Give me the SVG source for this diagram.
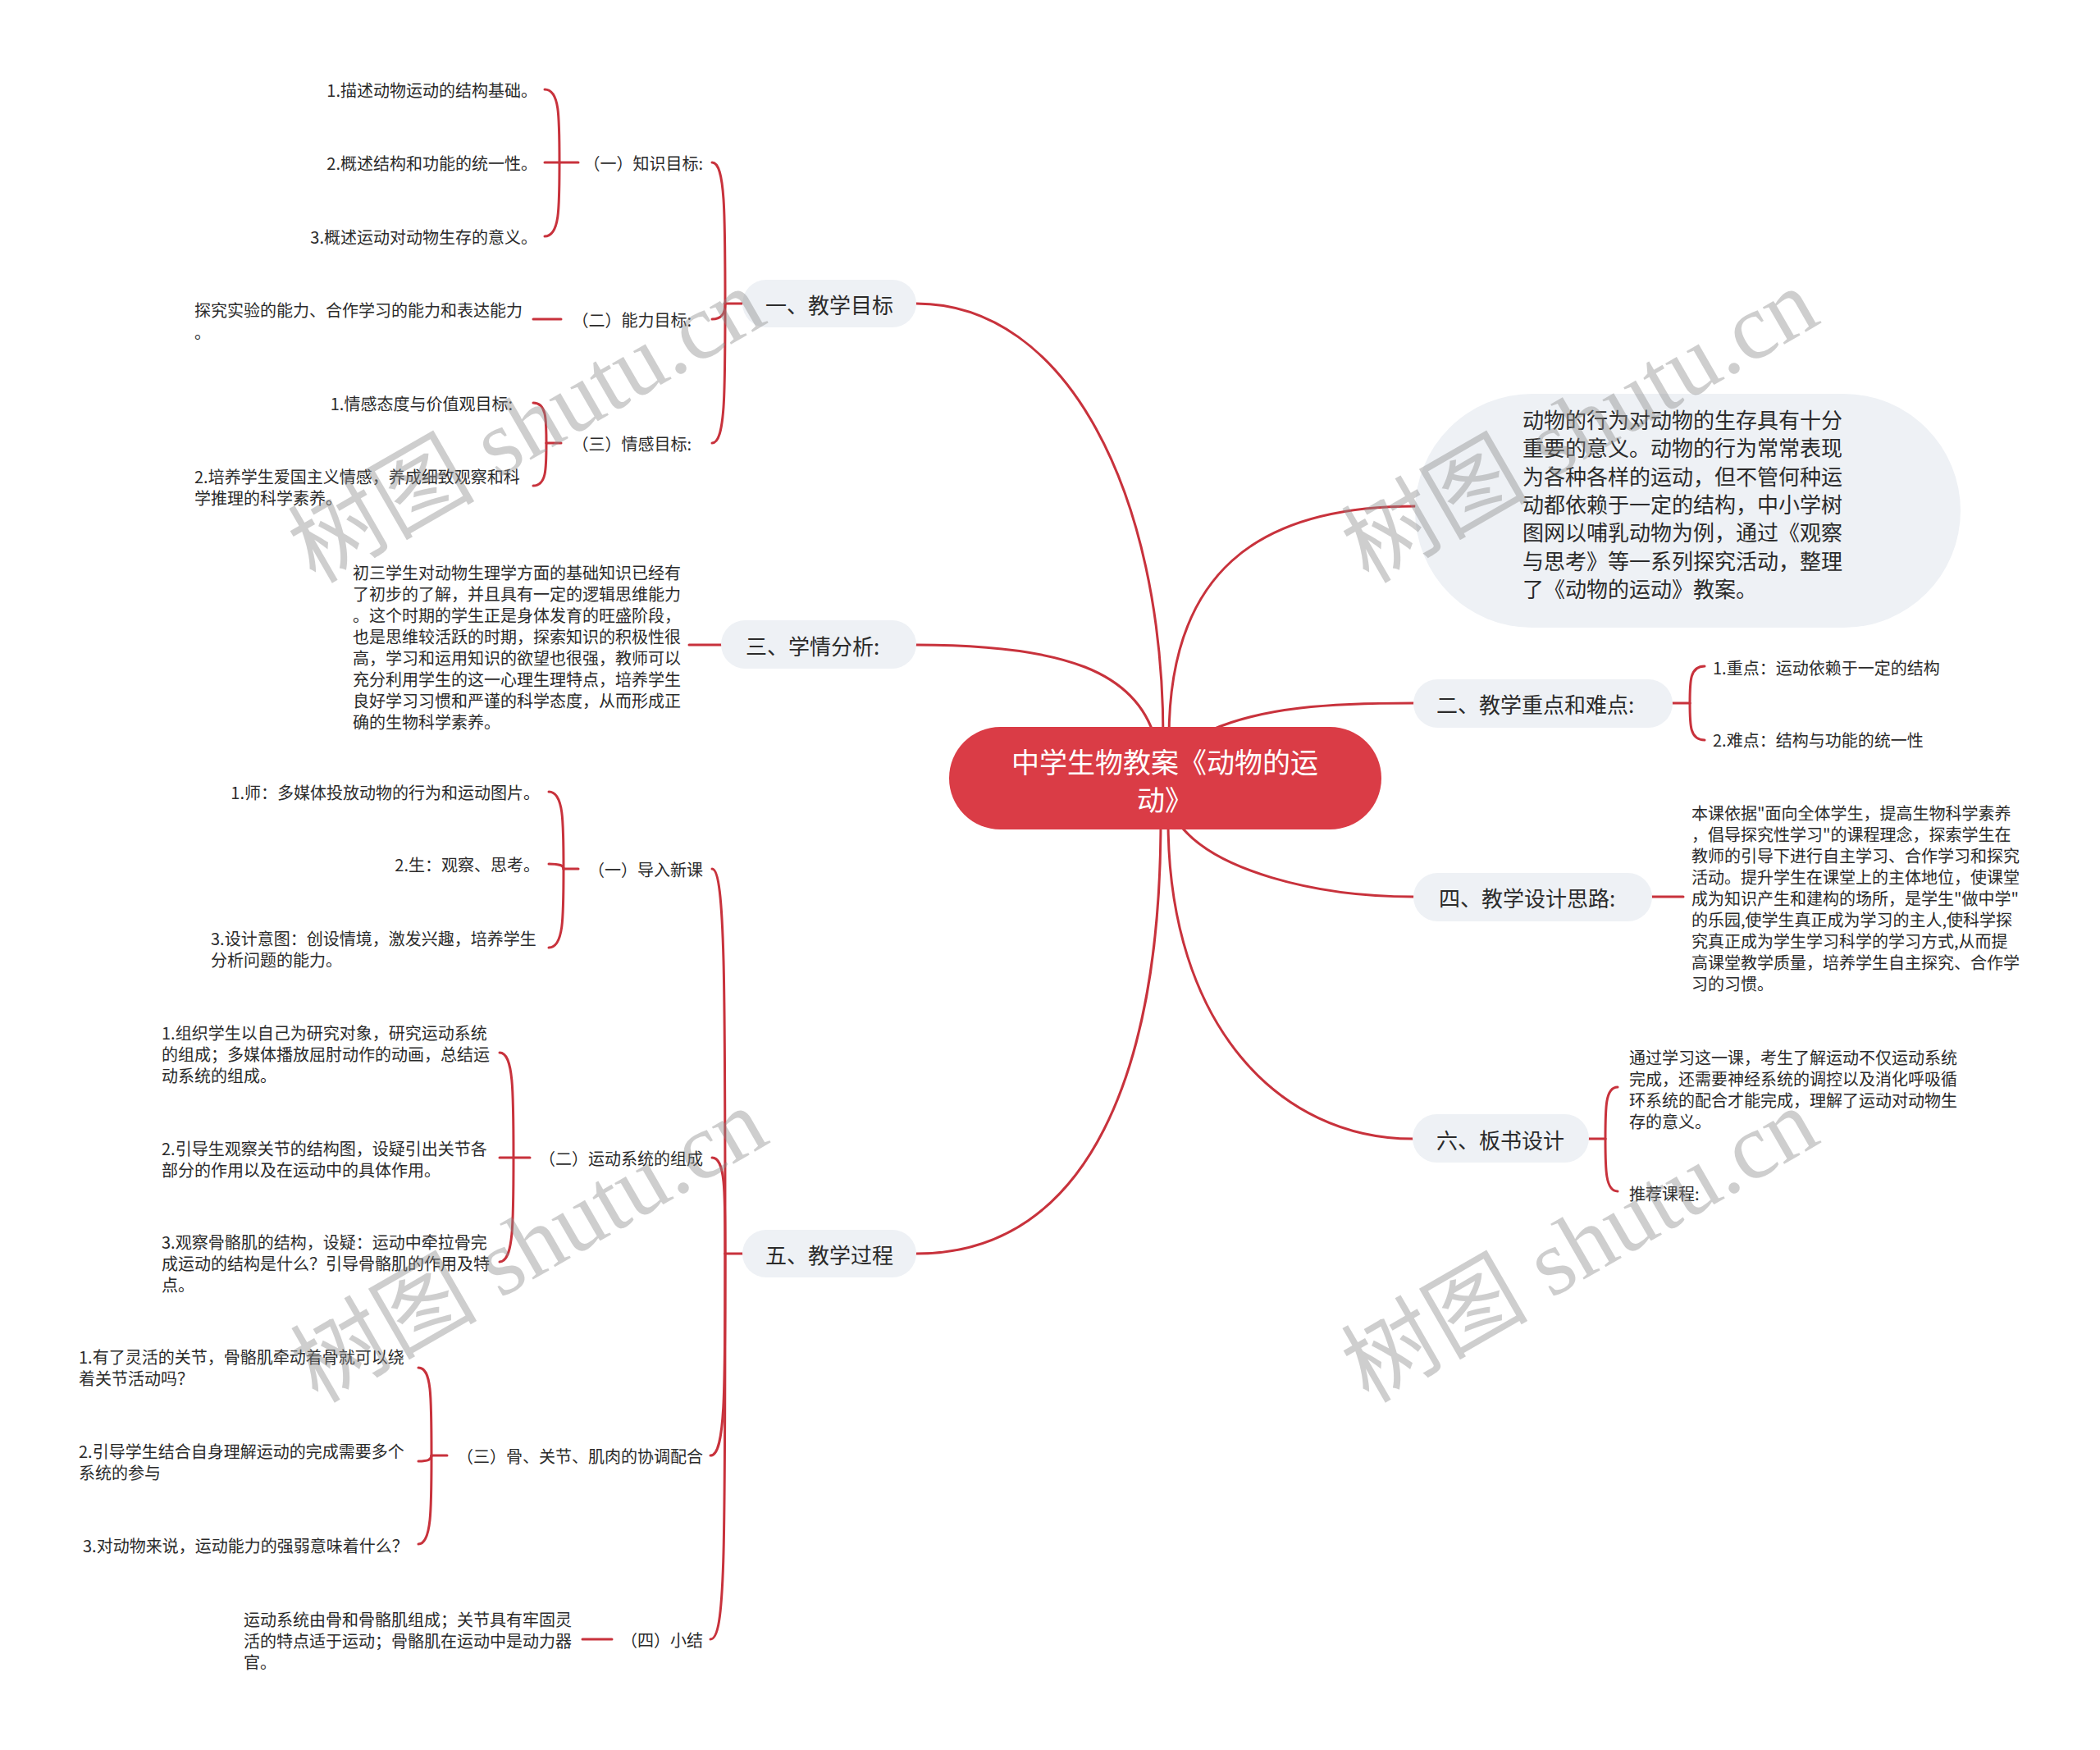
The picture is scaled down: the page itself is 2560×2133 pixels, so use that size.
<svg xmlns="http://www.w3.org/2000/svg" width="2560" height="2133" viewBox="0 0 2560 2133">
<style>
text{font-family:"Noto Sans CJK SC","Noto Sans",sans-serif;fill:#2b2b2b}
.t{font-size:20px}
.l1{font-size:26px;fill:#2b2b2b}
.d{font-size:26px}
.root{font-size:34px;fill:#ffffff}
.pill{fill:#eef1f5}
.c path{fill:none;stroke:#c8323c;stroke-width:3;stroke-linecap:round}
.wm{font-family:"Liberation Serif","Noto Sans CJK SC",serif;font-size:114px;fill:#8c8c8c;opacity:.42}
</style>
<rect width="2560" height="2133" fill="#ffffff"/>
<g class="c" id="connectors">
<path d="M1117,370 C1300,370 1418,600 1418,900"/>
<path d="M1117,786 C1300,786 1385,820 1408,900"/>
<path d="M1117,1528 C1330,1528 1415,1300 1415,1000"/>
<path d="M1425,900 C1425,700 1530,617 1725,617"/>
<path d="M1476,890 C1540,862 1620,857 1723,857"/>
<path d="M1438,1005 C1480,1060 1600,1093 1723,1093"/>
<path d="M1424,1000 C1424,1250 1560,1388 1722,1388"/>
<path d="M905,370 L884,370"/>
<path d="M884,370 C884,260 884,198 868,198"/>
<path d="M884,370 C884,382 880,389 868,389"/>
<path d="M884,370 C884,480 884,540 868,540"/>
<path d="M705,198 L682,198"/>
<path d="M682,198 C682,140 682,109 664,109"/>
<path d="M682,198 L664,198"/>
<path d="M682,198 C682,256 682,288 664,288"/>
<path d="M684,389 L650,389"/>
<path d="M684,540 L666,540"/>
<path d="M666,540 C666,510 666,491 650,491"/>
<path d="M666,540 C666,572 666,592 650,592"/>
<path d="M879,786 L840,786"/>
<path d="M905,1528 L884,1528"/>
<path d="M884,1528 C884,1200 884,1059 868,1059"/>
<path d="M884,1528 C884,1450 884,1411 868,1411"/>
<path d="M884,1528 C884,1700 884,1774 866,1774"/>
<path d="M884,1528 C884,1900 884,1998 866,1998"/>
<path d="M705,1059 L687,1059"/>
<path d="M687,1059 C687,1000 687,965 669,965"/>
<path d="M687,1059 C687,1055 683,1053 669,1053"/>
<path d="M687,1059 C687,1120 687,1155 669,1155"/>
<path d="M646,1411 L626,1411"/>
<path d="M626,1411 C626,1330 626,1283 609,1283"/>
<path d="M626,1411 L609,1411"/>
<path d="M626,1411 C626,1490 626,1538 609,1538"/>
<path d="M545,1774 L526,1774"/>
<path d="M526,1774 C526,1700 526,1667 510,1667"/>
<path d="M526,1774 C526,1779 522,1781 510,1781"/>
<path d="M526,1774 C526,1840 526,1882 510,1882"/>
<path d="M746,1998 L710,1998"/>
<path d="M2039,857 L2060,857"/>
<path d="M2060,857 C2060,830 2060,812 2078,812"/>
<path d="M2060,857 C2060,884 2060,902 2078,902"/>
<path d="M2014,1093 L2052,1093"/>
<path d="M1937,1388 L1957,1388"/>
<path d="M1957,1388 C1957,1350 1957,1325 1972,1325"/>
<path d="M1957,1388 C1957,1425 1957,1452 1972,1452"/>
</g>

<g id="root">
<rect x="1157" y="886" width="527" height="125" rx="62.5" fill="#da3c46"/>
<text class="root" x="1420" y="927" text-anchor="middle" dominant-baseline="central">中学生物教案《动物的运</text>
<text class="root" x="1420" y="973" text-anchor="middle" dominant-baseline="central">动》</text>
</g>

<g id="n1">
<rect class="pill" x="905" y="341" width="212" height="58" rx="29"/>
<text class="l1" x="933" y="370" dominant-baseline="central">一、教学目标</text>
</g>
<g id="n1-1"><text class="t" x="857" y="198" text-anchor="end" dominant-baseline="central">（一）知识目标:</text></g>
<g id="n1-1-1"><text class="t" x="655" y="109" text-anchor="end" dominant-baseline="central">1.描述动物运动的结构基础。</text></g>
<g id="n1-1-2"><text class="t" x="655" y="198" text-anchor="end" dominant-baseline="central">2.概述结构和功能的统一性。</text></g>
<g id="n1-1-3"><text class="t" x="655" y="288" text-anchor="end" dominant-baseline="central">3.概述运动对动物生存的意义。</text></g>
<g id="n1-2"><text class="t" x="843" y="389" text-anchor="end" dominant-baseline="central">（二）能力目标:</text></g>
<g id="n1-2-1"><text class="t" x="237" y="377" dominant-baseline="central">探究实验的能力、合作学习的能力和表达能力<tspan x="237" dy="27">。</tspan></text></g>
<g id="n1-3"><text class="t" x="843" y="540" text-anchor="end" dominant-baseline="central">（三）情感目标:</text></g>
<g id="n1-3-1"><text class="t" x="625" y="491" text-anchor="end" dominant-baseline="central">1.情感态度与价值观目标:</text></g>
<g id="n1-3-2"><text class="t" x="237" y="580" dominant-baseline="central">2.培养学生爱国主义情感，养成细致观察和科<tspan x="237" dy="26">学推理的科学素养。</tspan></text></g>

<g id="n3">
<rect class="pill" x="879" y="756" width="238" height="59" rx="29.5"/>
<text class="l1" x="909" y="786" dominant-baseline="central">三、学情分析:</text>
</g>
<g id="n3-1"><text class="t" x="430" y="697" dominant-baseline="central">初三学生对动物生理学方面的基础知识已经有<tspan x="430" dy="26">了初步的了解，并且具有一定的逻辑思维能力</tspan><tspan x="430" dy="26">。这个时期的学生正是身体发育的旺盛阶段，</tspan><tspan x="430" dy="26">也是思维较活跃的时期，探索知识的积极性很</tspan><tspan x="430" dy="26">高，学习和运用知识的欲望也很强，教师可以</tspan><tspan x="430" dy="26">充分利用学生的这一心理生理特点，培养学生</tspan><tspan x="430" dy="26">良好学习习惯和严谨的科学态度，从而形成正</tspan><tspan x="430" dy="26">确的生物科学素养。</tspan></text></g>

<g id="n5">
<rect class="pill" x="905" y="1499" width="212" height="58" rx="29"/>
<text class="l1" x="933" y="1528" dominant-baseline="central">五、教学过程</text>
</g>
<g id="n5-1"><text class="t" x="857" y="1059" text-anchor="end" dominant-baseline="central">（一）导入新课</text></g>
<g id="n5-1-1"><text class="t" x="658" y="965" text-anchor="end" dominant-baseline="central">1.师：多媒体投放动物的行为和运动图片。</text></g>
<g id="n5-1-2"><text class="t" x="658" y="1053" text-anchor="end" dominant-baseline="central">2.生：观察、思考。</text></g>
<g id="n5-1-3"><text class="t" x="257" y="1143" dominant-baseline="central">3.设计意图：创设情境，激发兴趣，培养学生<tspan x="257" dy="26">分析问题的能力。</tspan></text></g>
<g id="n5-2"><text class="t" x="857" y="1411" text-anchor="end" dominant-baseline="central">（二）运动系统的组成</text></g>
<g id="n5-2-1"><text class="t" x="197" y="1258" dominant-baseline="central">1.组织学生以自己为研究对象，研究运动系统<tspan x="197" dy="26">的组成；多媒体播放屈肘动作的动画，总结运</tspan><tspan x="197" dy="26">动系统的组成。</tspan></text></g>
<g id="n5-2-2"><text class="t" x="197" y="1399" dominant-baseline="central">2.引导生观察关节的结构图，设疑引出关节各<tspan x="197" dy="26">部分的作用以及在运动中的具体作用。</tspan></text></g>
<g id="n5-2-3"><text class="t" x="197" y="1513" dominant-baseline="central">3.观察骨骼肌的结构，设疑：运动中牵拉骨完<tspan x="197" dy="26">成运动的结构是什么？引导骨骼肌的作用及特</tspan><tspan x="197" dy="26">点。</tspan></text></g>
<g id="n5-3"><text class="t" x="857" y="1774" text-anchor="end" dominant-baseline="central">（三）骨、关节、肌肉的协调配合</text></g>
<g id="n5-3-1"><text class="t" x="96" y="1653" dominant-baseline="central">1.有了灵活的关节，骨骼肌牵动着骨就可以绕<tspan x="96" dy="26">着关节活动吗？</tspan></text></g>
<g id="n5-3-2"><text class="t" x="96" y="1768" dominant-baseline="central">2.引导学生结合自身理解运动的完成需要多个<tspan x="96" dy="26">系统的参与</tspan></text></g>
<g id="n5-3-3"><text class="t" x="101" y="1883" dominant-baseline="central">3.对动物来说，运动能力的强弱意味着什么？</text></g>
<g id="n5-4"><text class="t" x="857" y="1998" text-anchor="end" dominant-baseline="central">（四）小结</text></g>
<g id="n5-4-1"><text class="t" x="297" y="1973" dominant-baseline="central">运动系统由骨和骨骼肌组成；关节具有牢固灵<tspan x="297" dy="26">活的特点适于运动；骨骼肌在运动中是动力器</tspan><tspan x="297" dy="26">官。</tspan></text></g>

<g id="desc">
<rect class="pill" x="1725" y="480" width="665" height="285" rx="142.5"/>
<text class="d" x="1856" y="510" dominant-baseline="central">动物的行为对动物的生存具有十分<tspan x="1856" dy="34.3">重要的意义。动物的行为常常表现</tspan><tspan x="1856" dy="34.3">为各种各样的运动，但不管何种运</tspan><tspan x="1856" dy="34.3">动都依赖于一定的结构，中小学树</tspan><tspan x="1856" dy="34.3">图网以哺乳动物为例，通过《观察</tspan><tspan x="1856" dy="34.3">与思考》等一系列探究活动，整理</tspan><tspan x="1856" dy="34.3">了《动物的运动》教案。</tspan></text>
</g>

<g id="n2">
<rect class="pill" x="1723" y="828" width="316" height="59" rx="29.5"/>
<text class="l1" x="1751" y="857" dominant-baseline="central">二、教学重点和难点:</text>
</g>
<g id="n2-1"><text class="t" x="2088" y="813" dominant-baseline="central">1.重点：运动依赖于一定的结构</text></g>
<g id="n2-2"><text class="t" x="2088" y="901" dominant-baseline="central">2.难点：结构与功能的统一性</text></g>

<g id="n4">
<rect class="pill" x="1723" y="1064" width="291" height="59" rx="29.5"/>
<text class="l1" x="1754" y="1093" dominant-baseline="central">四、教学设计思路:</text>
</g>
<g id="n4-1"><text class="t" x="2062" y="990" dominant-baseline="central">本课依据"面向全体学生，提高生物科学素养<tspan x="2062" dy="26">，倡导探究性学习"的课程理念，探索学生在</tspan><tspan x="2062" dy="26">教师的引导下进行自主学习、合作学习和探究</tspan><tspan x="2062" dy="26">活动。提升学生在课堂上的主体地位，使课堂</tspan><tspan x="2062" dy="26">成为知识产生和建构的场所，是学生"做中学"</tspan><tspan x="2062" dy="26">的乐园,使学生真正成为学习的主人,使科学探</tspan><tspan x="2062" dy="26">究真正成为学生学习科学的学习方式,从而提</tspan><tspan x="2062" dy="26">高课堂教学质量，培养学生自主探究、合作学</tspan><tspan x="2062" dy="26">习的习惯。</tspan></text></g>

<g id="n6">
<rect class="pill" x="1722" y="1358" width="215" height="59" rx="29.5"/>
<text class="l1" x="1751" y="1388" dominant-baseline="central">六、板书设计</text>
</g>
<g id="n6-1"><text class="t" x="1986" y="1288" dominant-baseline="central">通过学习这一课，考生了解运动不仅运动系统<tspan x="1986" dy="26">完成，还需要神经系统的调控以及消化呼吸循</tspan><tspan x="1986" dy="26">环系统的配合才能完成，理解了运动对动物生</tspan><tspan x="1986" dy="26">存的意义。</tspan></text></g>
<g id="n6-2"><text class="t" x="1986" y="1454" dominant-baseline="central">推荐课程:</text></g>

<g id="watermarks">
<text class="wm" x="642" y="519" text-anchor="middle" dominant-baseline="central" transform="rotate(-30 642 519)">树图 shutu.cn</text>
<text class="wm" x="1926" y="519" text-anchor="middle" dominant-baseline="central" transform="rotate(-30 1926 519)">树图 shutu.cn</text>
<text class="wm" x="645" y="1518" text-anchor="middle" dominant-baseline="central" transform="rotate(-30 645 1518)">树图 shutu.cn</text>
<text class="wm" x="1926" y="1518" text-anchor="middle" dominant-baseline="central" transform="rotate(-30 1926 1518)">树图 shutu.cn</text>
</g>
</svg>
